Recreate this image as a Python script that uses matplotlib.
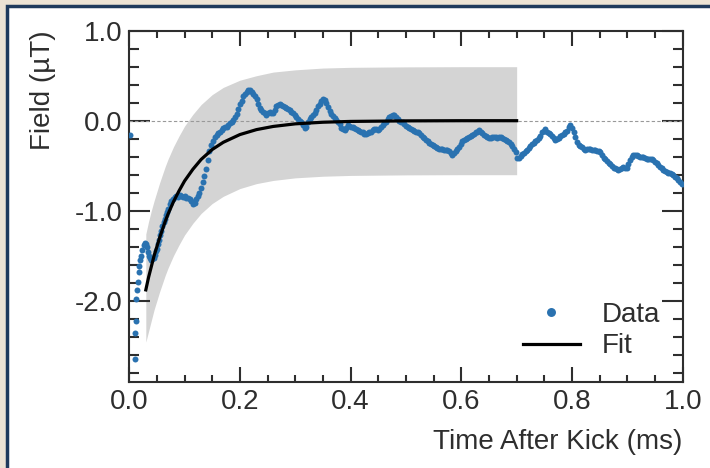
import matplotlib
matplotlib.use("Agg")
import matplotlib.pyplot as plt
from matplotlib.patches import Rectangle
from matplotlib.ticker import MultipleLocator, FormatStrFormatter

data_t = [0.002, 0.010, 0.011, 0.012, 0.013, 0.014, 0.015, 0.017, 0.018, 0.020,
          0.022, 0.024, 0.026, 0.028, 0.030, 0.032, 0.034, 0.036, 0.038, 0.040,
          0.042, 0.044, 0.046, 0.048, 0.050, 0.052, 0.054, 0.056, 0.058, 0.060,
          0.062, 0.064, 0.066, 0.068, 0.070, 0.073, 0.076, 0.079, 0.082, 0.085,
          0.088, 0.091, 0.094, 0.097, 0.100, 0.103, 0.106, 0.109, 0.112, 0.115,
          0.118, 0.121, 0.124, 0.127, 0.130, 0.133, 0.136, 0.139, 0.142, 0.145,
          0.148, 0.151, 0.155, 0.158, 0.161, 0.164, 0.167, 0.170, 0.173, 0.176,
          0.179, 0.182, 0.185, 0.188, 0.191, 0.194, 0.197, 0.200, 0.203, 0.206,
          0.209, 0.212, 0.215, 0.218, 0.221, 0.224, 0.227, 0.230, 0.233, 0.236,
          0.239, 0.242, 0.245, 0.248, 0.251, 0.254, 0.257, 0.260, 0.263, 0.266,
          0.269, 0.272, 0.275, 0.278, 0.281, 0.284, 0.287, 0.290, 0.293, 0.296,
          0.299, 0.302, 0.305, 0.308, 0.311, 0.314, 0.317, 0.320, 0.323, 0.326,
          0.329, 0.332, 0.335, 0.338, 0.341, 0.344, 0.347, 0.350, 0.353, 0.356,
          0.359, 0.362, 0.365, 0.368, 0.371, 0.374, 0.377, 0.380, 0.383, 0.386,
          0.389, 0.392, 0.395, 0.398, 0.401, 0.404, 0.407, 0.410, 0.413, 0.416,
          0.419, 0.422, 0.425, 0.428, 0.431, 0.434, 0.437, 0.440, 0.443, 0.446,
          0.449, 0.452, 0.455, 0.458, 0.461, 0.464, 0.467, 0.470, 0.473, 0.476,
          0.479, 0.482, 0.485, 0.488, 0.491, 0.494, 0.497, 0.500, 0.503, 0.506,
          0.509, 0.512, 0.515, 0.518, 0.521, 0.524, 0.527, 0.530, 0.533, 0.536,
          0.539, 0.542, 0.545, 0.548, 0.551, 0.554, 0.557, 0.560, 0.563, 0.566,
          0.569, 0.572, 0.575, 0.578, 0.581, 0.584, 0.587, 0.590, 0.593, 0.596,
          0.599, 0.602, 0.605, 0.608, 0.611, 0.614, 0.617, 0.620, 0.623, 0.626,
          0.629, 0.632, 0.635, 0.638, 0.641, 0.644, 0.647, 0.650, 0.653, 0.656,
          0.659, 0.662, 0.665, 0.668, 0.671, 0.674, 0.677, 0.680, 0.683, 0.686,
          0.689, 0.692, 0.695, 0.698, 0.701, 0.704, 0.707, 0.710, 0.713, 0.716,
          0.719, 0.722, 0.725, 0.728, 0.731, 0.734, 0.737, 0.740, 0.743, 0.746,
          0.749, 0.752, 0.755, 0.758, 0.761, 0.764, 0.767, 0.770, 0.773, 0.776,
          0.779, 0.782, 0.785, 0.788, 0.791, 0.794, 0.797, 0.800, 0.803, 0.806,
          0.809, 0.812, 0.815, 0.818, 0.821, 0.824, 0.827, 0.830, 0.833, 0.836,
          0.839, 0.842, 0.845, 0.848, 0.851, 0.854, 0.857, 0.860, 0.863, 0.866,
          0.869, 0.872, 0.875, 0.878, 0.881, 0.884, 0.887, 0.890, 0.893, 0.896,
          0.899, 0.902, 0.905, 0.908, 0.911, 0.914, 0.917, 0.920, 0.923, 0.926,
          0.929, 0.932, 0.935, 0.938, 0.941, 0.944, 0.947, 0.950, 0.953, 0.956,
          0.959, 0.962, 0.965, 0.968, 0.971, 0.974, 0.977, 0.980, 0.983, 0.986,
          0.989, 0.992, 0.995, 0.998]
data_field = [-0.16, -2.65, -2.36, -2.22, -1.98, -1.88, -1.79, -1.68, -1.61, -1.55,
              -1.50, -1.44, -1.38, -1.36, -1.37, -1.40, -1.46, -1.50, -1.53, -1.55,
              -1.54, -1.52, -1.49, -1.45, -1.42, -1.37, -1.32, -1.27, -1.22, -1.17,
              -1.13, -1.09, -1.05, -1.01, -0.98, -0.93, -0.89, -0.87, -0.85, -0.84,
              -0.85, -0.83, -0.84, -0.85, -0.84, -0.86, -0.86, -0.87, -0.89, -0.93,
              -0.91, -0.87, -0.84, -0.80, -0.75, -0.68, -0.61, -0.54, -0.44, -0.34,
              -0.27, -0.22, -0.18, -0.16, -0.14, -0.12, -0.10, -0.085, -0.075, -0.065,
              -0.05, -0.03, -0.01, 0.01, 0.04, 0.07, 0.13, 0.18, 0.22, 0.27,
              0.30, 0.32, 0.34, 0.34, 0.32, 0.30, 0.27, 0.24, 0.18, 0.14,
              0.12, 0.10, 0.08, 0.06, 0.08, 0.10, 0.09, 0.08, 0.12, 0.16,
              0.17, 0.18, 0.17, 0.16, 0.15, 0.14, 0.13, 0.12, 0.10, 0.08,
              0.06, 0.045, 0.02, 0.00, -0.02, -0.05, -0.08, -0.07, -0.02, 0.02,
              0.04, 0.06, 0.09, 0.12, 0.16, 0.19, 0.22, 0.24, 0.23, 0.20,
              0.15, 0.11, 0.07, 0.05, 0.03, 0.01, -0.01, -0.04, -0.08, -0.09,
              -0.10, -0.08, -0.05, -0.06, -0.07, -0.07, -0.08, -0.09, -0.10, -0.11,
              -0.12, -0.13, -0.15, -0.15, -0.14, -0.13, -0.12, -0.10, -0.09, -0.09,
              -0.10, -0.09, -0.07, -0.05, -0.03, -0.01, 0.02, 0.04, 0.05, 0.06,
              0.06, 0.04, 0.02, 0.00, -0.01, -0.02, -0.04, -0.06, -0.07, -0.08,
              -0.09, -0.10, -0.11, -0.12, -0.13, -0.14, -0.16, -0.18, -0.19, -0.21,
              -0.23, -0.25, -0.26, -0.27, -0.28, -0.29, -0.30, -0.31, -0.31, -0.31,
              -0.32, -0.33, -0.33, -0.34, -0.36, -0.38, -0.36, -0.34, -0.31, -0.29,
              -0.26, -0.23, -0.21, -0.20, -0.19, -0.18, -0.17, -0.16, -0.15, -0.13,
              -0.12, -0.10, -0.12, -0.14, -0.16, -0.17, -0.18, -0.19, -0.19, -0.18,
              -0.18, -0.18, -0.19, -0.18, -0.18, -0.19, -0.20, -0.21, -0.22, -0.24,
              -0.26, -0.28, -0.31, -0.35, -0.41, -0.41, -0.39, -0.37, -0.36, -0.34,
              -0.32, -0.30, -0.28, -0.26, -0.25, -0.22, -0.21, -0.19, -0.17, -0.13,
              -0.11, -0.09, -0.12, -0.14, -0.15, -0.17, -0.19, -0.21, -0.20, -0.19,
              -0.17, -0.16, -0.15, -0.13, -0.11, -0.07, -0.05, -0.08, -0.13, -0.18,
              -0.24, -0.27, -0.28, -0.29, -0.31, -0.32, -0.31, -0.31, -0.31, -0.32,
              -0.33, -0.33, -0.34, -0.34, -0.35, -0.38, -0.41, -0.43, -0.45, -0.47,
              -0.48, -0.50, -0.52, -0.53, -0.54, -0.55, -0.54, -0.52, -0.51, -0.52,
              -0.52, -0.48, -0.44, -0.40, -0.38, -0.38, -0.38, -0.39, -0.40, -0.40,
              -0.40, -0.41, -0.42, -0.42, -0.42, -0.43, -0.44, -0.46, -0.47, -0.49,
              -0.51, -0.53, -0.55, -0.56, -0.57, -0.58, -0.58, -0.59, -0.60, -0.62,
              -0.64, -0.66, -0.68, -0.70]

# exponential fit and its uncertainty band
fit_t = [0.030, 0.035, 0.040, 0.045, 0.050, 0.055, 0.060, 0.065, 0.070, 0.080,
         0.090, 0.100, 0.115, 0.130, 0.150, 0.170, 0.200, 0.230, 0.260, 0.300,
         0.350, 0.400, 0.500, 0.600, 0.700]
fit_field = [-1.88, -1.74, -1.62, -1.50, -1.40, -1.30, -1.21, -1.12, -1.04, -0.90,
             -0.78, -0.67, -0.54, -0.43, -0.32, -0.24, -0.154, -0.099, -0.064, -0.035,
             -0.017, -0.008, -0.002, 0.0, 0.0]
band_upper = [-1.26, -1.12, -1.00, -0.89, -0.79, -0.69, -0.60, -0.51, -0.43, -0.29,
              -0.17, -0.06, 0.07, 0.18, 0.29, 0.37, 0.45, 0.50, 0.54, 0.565,
              0.585, 0.593, 0.598, 0.60, 0.60]
band_lower = [-2.46, -2.34, -2.22, -2.10, -2.00, -1.90, -1.81, -1.72, -1.64, -1.50,
              -1.38, -1.27, -1.14, -1.03, -0.92, -0.84, -0.754, -0.699, -0.664, -0.635,
              -0.617, -0.608, -0.602, -0.60, -0.60]

ink = '#2e2e2e'
plt.rcParams['font.family'] = ['Liberation Sans', 'DejaVu Sans']
plt.rcParams['font.size'] = 20
plt.rcParams['axes.unicode_minus'] = False
plt.rcParams['text.color'] = ink
plt.rcParams['axes.labelcolor'] = ink
plt.rcParams['xtick.color'] = ink
plt.rcParams['ytick.color'] = ink

fig = plt.figure(figsize=(7.1, 4.68), dpi=100, facecolor='#ece3d4')
# white panel with navy frame, as on the slide
fig.patches.append(Rectangle((6.5 / 710, -0.05), 1.2, 1.05 - 6.5 / 468,
                             transform=fig.transFigure, facecolor='white',
                             edgecolor='#1e3a5c', lw=2.5, zorder=-5))

ax = fig.add_axes([129.2 / 710, 1 - 381.7 / 468, 553.5 / 710, 351 / 468])
ax.set_facecolor('white')

ax.fill_between(fit_t, band_lower, band_upper, color='#d4d4d4', lw=0, zorder=1)
ax.axhline(0, color='#999999', lw=0.8, ls=(0, (3, 2)), zorder=2)
ax.plot(data_t, data_field, 'o', ms=4.3, mew=0, color='#2a72b0', label='Data', zorder=3)
ax.plot(fit_t, fit_field, color='black', lw=2.3, label='Fit', zorder=4)

ax.set_xlim(0, 1.0)
ax.set_ylim(-2.9, 1.0)
ax.xaxis.set_major_locator(MultipleLocator(0.2))
ax.xaxis.set_minor_locator(MultipleLocator(0.05))
ax.yaxis.set_major_locator(MultipleLocator(1.0))
ax.yaxis.set_minor_locator(MultipleLocator(0.2))
ax.xaxis.set_major_formatter(FormatStrFormatter('%.1f'))
ax.yaxis.set_major_formatter(FormatStrFormatter('%.1f'))

ax.tick_params(which='both', direction='in', top=True, right=True, width=1.5)
ax.tick_params(axis='x', which='major', length=10.5, pad=5)
ax.tick_params(axis='x', which='minor', length=5)
ax.tick_params(axis='y', which='major', length=15, pad=5)
ax.tick_params(axis='y', which='minor', length=7.5)
for s in ax.spines.values():
    s.set_linewidth(1.5)
    s.set_color(ink)

ax.set_xlabel('Time After Kick (ms)', loc='right', labelpad=10)
ax.set_ylabel('Field (µT)', loc='top', labelpad=13)

leg = ax.legend(loc='lower right', frameon=False, markerscale=1.5,
                handlelength=2.05, handletextpad=0.8, labelspacing=0.2,
                borderaxespad=0.4, bbox_to_anchor=(1.0, 0.0))

fig.savefig('out.png', dpi=100, facecolor=fig.get_facecolor())
